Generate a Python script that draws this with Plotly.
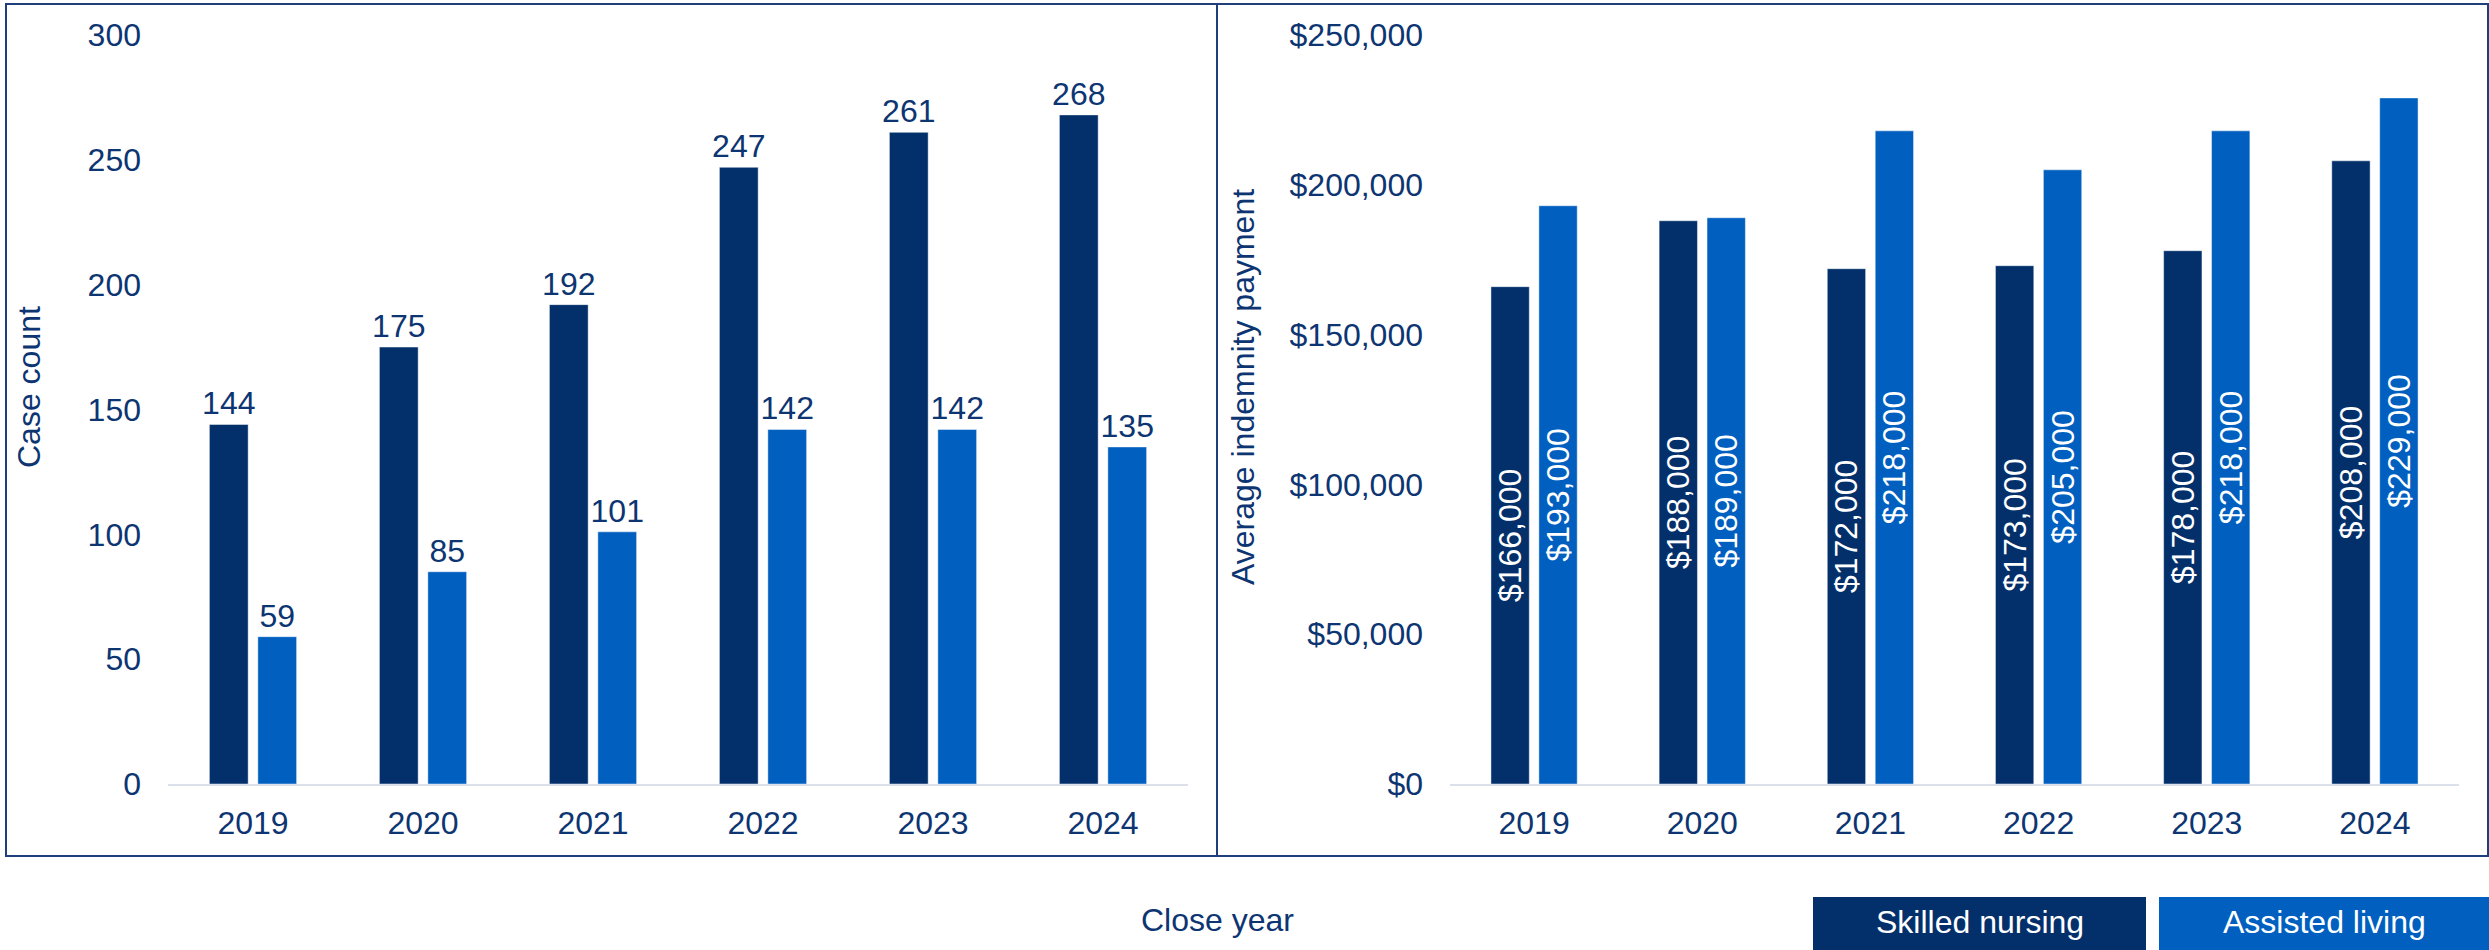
import plotly.graph_objects as go

# Close years and the two facility types
years = ["2019", "2020", "2021", "2022", "2023", "2024"]
series_names = ["Skilled nursing", "Assisted living"]

# Case counts per close year
case_count_snf = [144, 175, 192, 247, 261, 268]
case_count_alf = [59, 85, 101, 142, 142, 135]

# Average indemnity payment per close year (USD)
avg_pay_snf = [166000, 188000, 172000, 173000, 178000, 208000]
avg_pay_alf = [193000, 189000, 218000, 205000, 218000, 229000]

W, H = 2489, 950
NAVY = "#03306B"
BLUE = "#005FBF"
TEXT = "#0D3572"
FONT = "Liberation Sans, Arial, sans-serif"
FS = 32


def px_x(p):
    return p / W


def px_y(p):
    return 1 - p / H


fig = go.Figure()

bar_line = dict(color="rgba(255,255,255,0.45)", width=1)

# Left panel: case counts, labels above bars
for name, vals, col in [(series_names[0], case_count_snf, NAVY),
                        (series_names[1], case_count_alf, BLUE)]:
    fig.add_trace(go.Bar(
        x=years, y=vals, name=name, xaxis="x", yaxis="y",
        marker=dict(color=col, line=bar_line),
        text=vals, texttemplate="%{text}", textposition="outside",
        textangle=0, cliponaxis=False,
        textfont=dict(color=TEXT, size=FS, family=FONT),
        showlegend=False,
    ))

# Right panel: average indemnity payment, rotated labels inside bars
for name, vals, col in [(series_names[0], avg_pay_snf, NAVY),
                        (series_names[1], avg_pay_alf, BLUE)]:
    fig.add_trace(go.Bar(
        x=years, y=vals, name=name, xaxis="x2", yaxis="y2",
        marker=dict(color=col, line=bar_line),
        text=vals, texttemplate="$%{text:,.0f}", textposition="inside",
        insidetextanchor="middle", textangle=-90,
        textfont=dict(color="white", size=FS, family=FONT),
        showlegend=False,
    ))

axis_common = dict(
    showgrid=False, zeroline=False, automargin=False,
    tickfont=dict(color=TEXT, size=FS, family=FONT),
)

fig.update_layout(
    width=W, height=H,
    margin=dict(l=0, r=0, t=0, b=0, autoexpand=False),
    paper_bgcolor="white", plot_bgcolor="white",
    barmode="group", bargap=0.43, bargroupgap=0.2,
    uniformtext=dict(minsize=FS, mode="show"),
    font=dict(family=FONT, color=TEXT, size=FS),
    xaxis=dict(domain=[px_x(168), px_x(1188)], anchor="y",
               showline=True, linecolor="#DCE0EA", linewidth=2,
               ticks="", ticklabelstandoff=10, **axis_common),
    yaxis=dict(domain=[px_y(784), px_y(35)], anchor="x",
               range=[0, 300], dtick=50, showline=False,
               ticks="", ticklabelstandoff=26, **axis_common),
    xaxis2=dict(domain=[px_x(1450), px_x(2459)], anchor="y2",
                showline=True, linecolor="#DCE0EA", linewidth=2,
                ticks="", ticklabelstandoff=10, **axis_common),
    yaxis2=dict(domain=[px_y(784), px_y(35)], anchor="x2",
                range=[0, 250000], dtick=50000, tickprefix="$",
                tickformat=",", showline=False,
                ticks="", ticklabelstandoff=26, **axis_common),
)

border = "#1E3F7C"
shapes = [
    dict(type="rect", xref="paper", yref="paper",
         x0=px_x(6), x1=px_x(1217), y0=px_y(856), y1=px_y(4),
         line=dict(color=border, width=2), fillcolor="rgba(0,0,0,0)"),
    dict(type="rect", xref="paper", yref="paper",
         x0=px_x(1217), x1=px_x(2488), y0=px_y(856), y1=px_y(4),
         line=dict(color=border, width=2), fillcolor="rgba(0,0,0,0)"),
    # legend swatches
    dict(type="rect", xref="paper", yref="paper",
         x0=px_x(1813), x1=px_x(2146), y0=0, y1=px_y(897),
         line=dict(width=0), fillcolor=NAVY),
    dict(type="rect", xref="paper", yref="paper",
         x0=px_x(2159), x1=1, y0=0, y1=px_y(897),
         line=dict(width=0), fillcolor=BLUE),
]

annotations = [
    dict(text="Case count", xref="paper", yref="paper",
         x=px_x(29), y=px_y(387), textangle=-90, showarrow=False,
         xanchor="center", yanchor="middle",
         font=dict(color=TEXT, size=FS, family=FONT)),
    dict(text="Average indemnity payment", xref="paper", yref="paper",
         x=px_x(1243), y=px_y(387), textangle=-90, showarrow=False,
         xanchor="center", yanchor="middle",
         font=dict(color=TEXT, size=FS, family=FONT)),
    dict(text="Close year", xref="paper", yref="paper",
         x=px_x(1217), y=px_y(920), showarrow=False,
         xanchor="center", yanchor="middle",
         font=dict(color=TEXT, size=FS, family=FONT)),
    dict(text=series_names[0], xref="paper", yref="paper",
         x=px_x((1813 + 2146) / 2), y=px_y(922), showarrow=False,
         xanchor="center", yanchor="middle",
         font=dict(color="white", size=FS, family=FONT)),
    dict(text=series_names[1], xref="paper", yref="paper",
         x=px_x((2159 + 2489) / 2), y=px_y(922), showarrow=False,
         xanchor="center", yanchor="middle",
         font=dict(color="white", size=FS, family=FONT)),
]

fig.update_layout(shapes=shapes, annotations=annotations)

fig.write_html("out.html")
